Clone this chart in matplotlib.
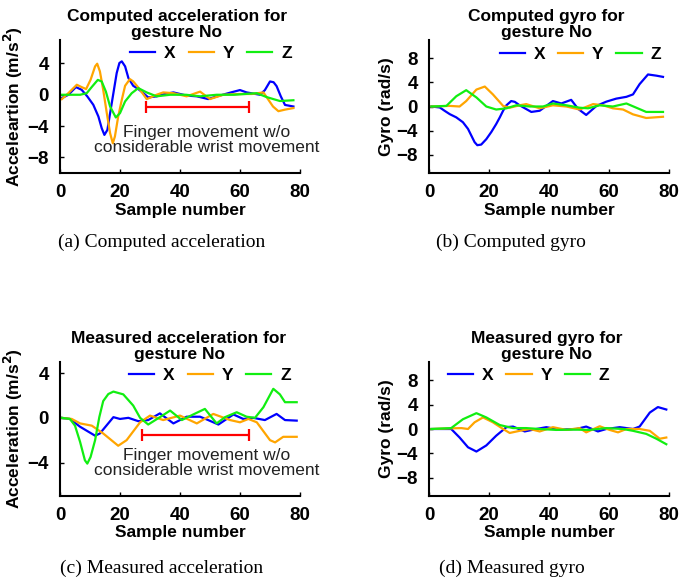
import matplotlib
matplotlib.use("Agg")
import matplotlib.pyplot as plt

plt.rcParams['font.family'] = ['Liberation Sans', 'DejaVu Sans']
plt.rcParams['font.weight'] = 'bold'

# (a) computed acceleration
ca_x_t = [0.6, 2.8, 5.3, 7.2, 9.1, 11.1, 12.8, 13.9, 14.8, 15.8, 16.7, 17.8, 18.9, 19.8, 20.6, 21.7, 22.8, 24.4, 26.1, 27.8, 29.4,
          32.2, 35, 37.8, 42.2, 45.6, 49.4, 53.3, 57, 60, 62.2, 66.7, 68.3, 70, 71.2, 72.2, 73.6, 75, 77.8]
ca_x_v = [-0.43, 0.0, 0.98, 0.64, -0.21, -1.28, -2.78, -4.27, -5.13, -4.49, -2.35, 0.21, 2.78, 4.06, 4.27, 3.63, 2.14, 1.15, 0.73, 0.21, -0.34,
          -0.2, 0.1, 0.3, -0.1, -0.2, -0.55, -0.1, 0.3, 0.6, 0.3, 0.0, 0.6, 1.7, 1.6, 1.1, -0.2, -1.3, -1.5]
ca_y_t = [0.6, 2.8, 5.6, 7.2, 8.7, 10.2, 11.7, 12.4, 13.3, 14.4, 15.6, 16.7, 17.6, 18.3, 19.4, 20.6, 21.7, 23.3, 24.4, 26.7, 28.9,
          32.2, 34.4, 37.8, 42.2, 46.7, 50, 54.4, 60, 64, 67.8, 69.4, 71, 72.8, 75, 77.8]
ca_y_v = [-0.56, 0.21, 1.28, 0.98, 0.73, 1.92, 3.63, 3.97, 2.99, 0.64, -2.35, -4.91, -6.2, -5.34, -2.78, -0.64, 1.15, 2.0, 1.71, 0.64, -0.56,
          0.0, 0.3, 0.2, -0.2, 0.4, -0.55, 0.0, 0.1, 0.1, 0.3, -0.6, -1.5, -2.1, -1.9, -1.7]
ca_z_t = [0.6, 6.7, 8.9, 10.6, 12.6, 13.9, 15.3, 16.7, 18.6, 20, 21.7, 23.9, 26.1, 28.9, 32.2, 36.7, 42, 46.7, 52.2, 58, 65.6, 68.9, 73.3, 77.8]
ca_z_v = [0.0, 0.0, 0.2, 1.0, 1.9, 1.7, 0.4, -1.5, -2.9, -2.35, -0.85, 0.2, 0.85, 0.3, -0.2, 0.0, 0.0, -0.2, 0.0, 0.0, 0.2, -0.3, -0.8, -0.7]

# (b) computed gyro
cg_x_t = [0.8, 3.6, 5.2, 6.9, 9.1, 11.3, 13, 14.1, 15.2, 16.1, 17.4, 19.1, 20.8, 22.4, 23.6, 24.7, 25.8, 27.4, 28.6, 30.2,
          34.1, 36.9, 41.3, 44.1, 47.4, 49.7, 52.4, 55.8, 59.1, 62.4, 65.8, 68, 70.2, 73, 75.8, 78]
cg_x_v = [0.0, -0.16, -0.71, -1.26, -1.8, -2.6, -3.7, -4.8, -5.9, -6.4, -6.3, -5.4, -4.2, -2.9, -1.8, -0.7, 0.2, 0.9, 0.77, 0.2,
          -0.9, -0.7, 0.9, 0.5, 1.1, -0.4, -1.4, 0.1, 0.8, 1.3, 1.6, 2.0, 3.7, 5.3, 5.1, 4.9]
cg_y_t = [0.8, 6.9, 10.2, 12.4, 15.8, 18.6, 21.3, 24.7, 26.9, 30.2, 32.4, 36.9, 41.3, 45.8, 50.2, 54.7, 58, 61.3, 64.7, 68, 72.4, 78]
cg_y_v = [0.0, 0.1, 0.0, 0.9, 2.8, 3.3, 2.0, 0.1, -0.2, 0.2, 0.4, -0.3, 0.2, 0.0, -0.5, 0.4, 0.2, -0.3, -0.5, -1.3, -1.9, -1.7]
cg_z_t = [0.8, 5.8, 9.1, 12.4, 15.8, 19.1, 22.4, 25.8, 29.1, 33.6, 38, 41.3, 45.8, 50.2, 53, 56.9, 61.3, 65.8, 69.1, 72.4, 78]
cg_z_v = [0.0, 0.1, 1.7, 2.7, 1.5, 0.0, -0.5, -0.3, 0.2, 0.0, 0.0, 0.5, 0.2, -0.2, -0.3, 0.2, 0.0, 0.5, -0.2, -0.9, -0.9]

# (c) measured acceleration
ma_x_t = [0.5, 3.3, 6.7, 11.7, 13.3, 17.8, 20, 22.8, 26.1, 29.4, 33.3, 37.8, 42.2, 46.7, 49.4, 52.8, 57.8, 61.1, 64.4, 68.3, 72.2, 75, 78.9]
ma_x_v = [0.0, -0.1, -0.8, -1.6, -1.4, 0.06, -0.1, 0.0, -0.3, -0.2, 0.4, -0.5, 0.1, 0.1, -0.2, -0.6, 0.3, -0.1, 0.0, -0.2, 0.35, -0.2, -0.25]
ma_y_t = [0.5, 3.9, 6.7, 10.6, 14.4, 19.4, 22.2, 26.7, 30, 34.4, 40, 45.6, 51.1, 56.7, 60, 62.8, 65.6, 70, 71.7, 74.4, 78.9]
ma_y_v = [0.0, -0.1, -0.5, -0.7, -1.4, -2.5, -2.0, -0.4, 0.2, -0.2, 0.2, -0.5, 0.35, -0.2, -0.4, -0.1, -0.4, -2.0, -2.2, -1.7, -1.7]
ma_z_t = [0.5, 3.3, 5, 6.7, 8.3, 9.1, 10.2, 11.7, 13.1, 14.4, 16.1, 17.8, 21.1, 24.4, 26.7, 29.4, 33.3, 36.7, 40.6, 44.4, 48.3, 52.2, 55, 58.9, 62.2, 65, 67.8, 71.1, 73.3, 75, 78.9]
ma_z_v = [0.0, -0.1, -0.7, -2.16, -3.8, -4.1, -3.5, -2.0, 0.06, 1.5, 2.13, 2.35, 2.1, 1.1, 0.0, -0.6, 0.06, 0.65, -0.2, 0.3, 0.8, -0.5, 0.06, 0.5, 0.1, 0.0, 0.95, 2.6, 2.1, 1.4, 1.4]

# (d) measured gyro
mg_x_t = [0.8, 7.4, 10.2, 13, 15.8, 19.1, 22.4, 25.8, 28, 31.9, 35.8, 39.1, 43.6, 49.1, 52.4, 56.3, 59.1, 63.6, 68, 70.2, 73.6, 76.3, 79.1]
mg_x_v = [0.0, 0.0, -1.4, -3.0, -3.7, -2.7, -1.1, 0.3, 0.4, -0.4, 0.0, 0.3, -0.1, 0.0, 0.4, -0.4, 0.0, 0.3, 0.0, 0.4, 2.7, 3.6, 3.2]
mg_y_t = [0.8, 6.9, 10.8, 13, 15.2, 18, 21.3, 24.7, 26.9, 30.2, 33.6, 36.9, 41.3, 45.8, 50.2, 52.4, 56.9, 60.2, 63, 65.8, 70.2, 73.6, 76.9, 79.1]
mg_y_v = [0.0, 0.1, 0.15, 0.0, 1.1, 1.9, 1.1, 0.0, -0.65, -0.3, 0.0, -0.4, 0.3, -0.15, 0.15, -0.55, 0.45, -0.15, -0.55, 0.0, 0.0, -0.3, -1.6, -1.4]
mg_z_t = [0.8, 7.4, 11.3, 15.8, 19.1, 23.6, 28, 32.4, 36.9, 42.4, 48, 53.6, 59.1, 64.7, 68, 72.4, 75.8, 79.1]
mg_z_v = [0.0, 0.15, 1.6, 2.6, 1.9, 0.65, 0.15, 0.15, 0.0, -0.15, -0.1, -0.15, 0.15, 0.0, -0.3, -0.8, -1.6, -2.5]

colors = ['#0000ff', '#ffa500', '#11ee11']
W, H = 679, 583
fig = plt.figure(figsize=(W / 100, H / 100), dpi=100)


def make_axes(left, top, right, bottom):
    return fig.add_axes([left / W, 1 - bottom / H, (right - left) / W, (bottom - top) / H])


def style(ax, ylim, yticks, ylabel, title, tx, leg_x, leg_y):
    ax.set_xlim(0, 80)
    ax.set_ylim(*ylim)
    ax.set_xticks([0, 20, 40, 60, 80])
    ax.set_yticks(yticks)
    ax.tick_params(direction='in', length=3, width=1, labelsize=13.5, pad=8)
    for s in ['top', 'right']:
        ax.spines[s].set_visible(False)
    for s in ['left', 'bottom']:
        ax.spines[s].set_linewidth(1.5)
    ax.set_xlabel('Sample number', fontsize=12.5, fontweight='bold', labelpad=1)
    ax.set_ylabel(ylabel, fontsize=12.5, fontweight='bold', labelpad=2)
    ax.text(tx, 1.0, title, transform=ax.transAxes, ha='center', va='bottom',
            fontsize=12.5, fontweight='bold', linespacing=1.05)
    ax.legend(loc='center', bbox_to_anchor=(leg_x, leg_y), ncol=3, frameon=False,
              fontsize=12.5, handlelength=1.45, columnspacing=0.75, handletextpad=0.5,
              borderpad=0, borderaxespad=0)


def draw(ax, series):
    for (t, v), c, name in zip(series, colors, ['X', 'Y', 'Z']):
        ax.plot(t, v, color=c, lw=1.6, label=name)


def bracket(ax, x0, x1, y, tx, ty):
    ax.errorbar([(x0 + x1) / 2], [y], xerr=[(x1 - x0) / 2], color='red', lw=1.6,
                capsize=4, capthick=1.6, fmt='none')
    ax.text(tx, ty, 'Finger movement w/o\nconsiderable wrist movement', ha='center', va='center',
            fontsize=12.5, fontweight='normal', color='#222222', linespacing=1.0)


ax_a = make_axes(60, 40, 300, 173)
draw(ax_a, [(ca_x_t, ca_x_v), (ca_y_t, ca_y_v), (ca_z_t, ca_z_v)])
bracket(ax_a, 28.5, 63, -1.6, 49, -5.8)
style(ax_a, (-10, 7), [4, 0, -4, -8], 'Acceleartion (m/s$^\\mathbf{2}$)',
      'Computed acceleration for\ngesture No', 0.486, 0.629, 0.9)

ax_b = make_axes(429, 40, 669, 173)
draw(ax_b, [(cg_x_t, cg_x_v), (cg_y_t, cg_y_v), (cg_z_t, cg_z_v)])
style(ax_b, (-11, 11), [8, 4, 0, -4, -8], 'Gyro (rad/s)',
      'Computed gyro for\ngesture No', 0.49, 0.63, 0.89)

ax_c = make_axes(60, 362, 300, 496)
draw(ax_c, [(ma_x_t, ma_x_v), (ma_y_t, ma_y_v), (ma_z_t, ma_z_v)])
bracket(ax_c, 27.2, 63.1, -1.5, 49, -4.05)
style(ax_c, (-7, 5), [4, 0, -4], 'Acceleration (m/s$^\\mathbf{2}$)',
      'Measured acceleration for\ngesture No', 0.496, 0.625, 0.9)

ax_d = make_axes(429, 362, 669, 496)
draw(ax_d, [(mg_x_t, mg_x_v), (mg_y_t, mg_y_v), (mg_z_t, mg_z_v)])
style(ax_d, (-11, 11), [8, 4, 0, -4, -8], 'Gyro (rad/s)',
      'Measured gyro for\ngesture No', 0.49, 0.415, 0.9)

captions = ['(a) Computed acceleration', '(b) Computed gyro',
            '(c) Measured acceleration', '(d) Measured gyro']
cap_pos = [(162, 242), (511, 242), (162, 568), (512, 568)]
for txt, (cx, cy) in zip(captions, cap_pos):
    fig.text(cx / W, 1 - cy / H, txt, ha='center', va='center', fontsize=14,
             fontweight='normal', family=['Liberation Serif', 'DejaVu Serif'])

fig.savefig('out.png', dpi=100)
